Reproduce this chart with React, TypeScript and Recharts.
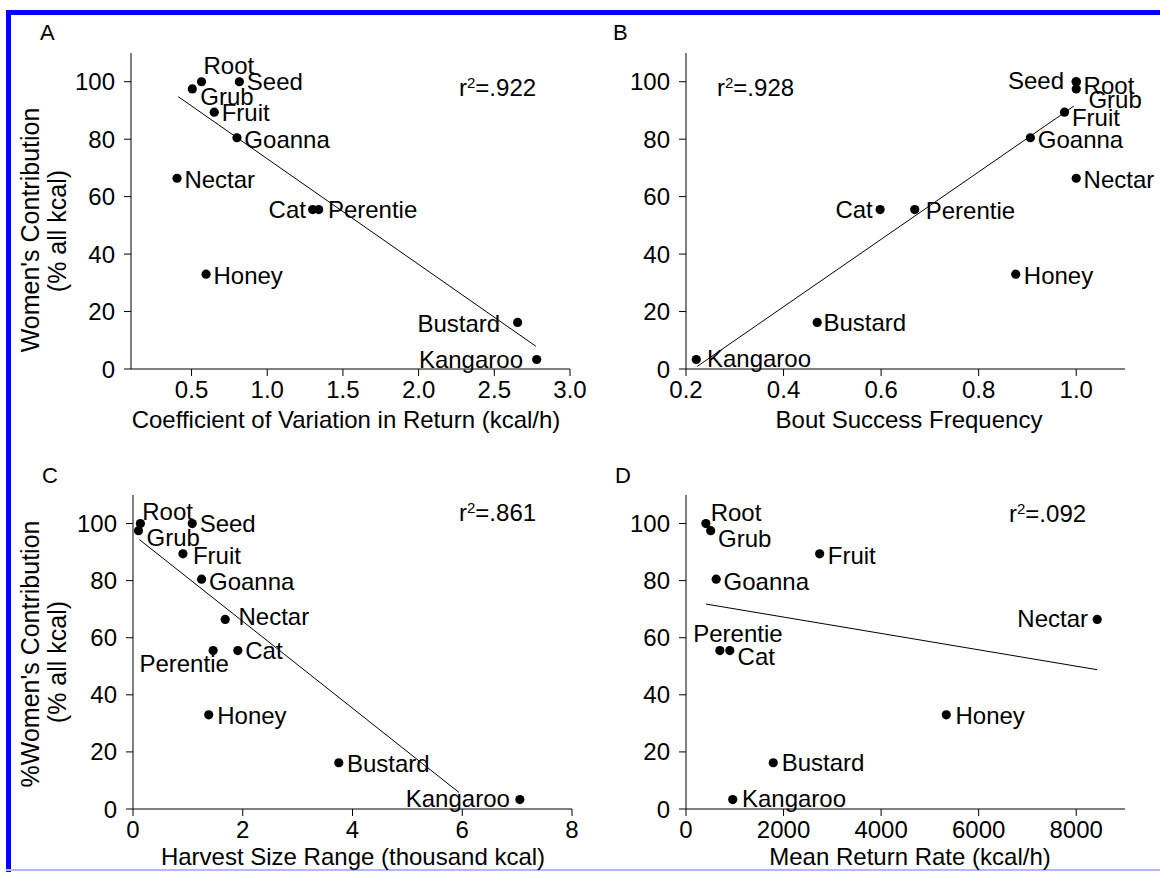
import React from "react";
import { ReferenceLine, Scatter, ScatterChart, XAxis, YAxis } from "recharts";

const FONT = "'Liberation Sans', Arial, Helvetica, sans-serif";

// food types, same order in every array
const foods = ["Root", "Seed", "Grub", "Fruit", "Goanna", "Nectar", "Cat", "Perentie", "Honey", "Bustard", "Kangaroo"];
// women's share of all kcal (%)
const womenShare = [100, 100, 97.5, 89.4, 80.5, 66.4, 55.5, 55.5, 33, 16.2, 3.3];
// x values per panel
const cvReturn = [0.566, 0.816, 0.505, 0.65, 0.8, 0.404, 1.3, 1.34, 0.596, 2.654, 2.78];
const boutSuccess = [1.0, 1.0, 1.0, 0.976, 0.906, 1.0, 0.598, 0.669, 0.876, 0.469, 0.221];
const harvestRange = [0.135, 1.08, 0.1, 0.91, 1.25, 1.68, 1.91, 1.46, 1.38, 3.75, 7.05];
const meanReturn = [408, null, 506, 2740, 619, 8430, 898, 694, 5336, 1789, 958];

// fitted lines (end points)
const fitA = [{ x: 0.412, y: 94.8 }, { x: 2.775, y: 7.9 }];
const fitB = [{ x: 0.223, y: 0.9 }, { x: 0.995, y: 91.5 }];
const fitC = [{ x: 0.115, y: 94.4 }, { x: 5.94, y: 5.8 }];
const fitD = [{ x: 408, y: 71.8 }, { x: 8430, y: 48.8 }];

const r2 = [".922", ".928", ".861", ".092"];

const yTicks = [0, 20, 40, 60, 80, 100];
const ticksA = [0.5, 1.0, 1.5, 2.0, 2.5, 3.0];
const ticksB = [0.2, 0.4, 0.6, 0.8, 1.0];
const ticksC = [0, 2, 4, 6, 8];
const ticksD = [0, 2000, 4000, 6000, 8000];

// label offsets from the dot: [dx, dy, anchor]
type LabelPos = [number, number, "start" | "middle" | "end"];
const posA: Record<string, LabelPos> = {
  Root: [2, -16.6, "start"], Seed: [7.4, 0, "start"], Grub: [8, 7.3, "start"],
  Fruit: [7.4, 0.7, "start"], Goanna: [7.4, 1.7, "start"], Nectar: [7.4, 1, "start"],
  Cat: [-6.7, 0, "end"], Perentie: [9.2, 0, "start"], Honey: [7.4, 1, "start"],
  Bustard: [-17.4, 0.7, "end"], Kangaroo: [-13.7, 0, "end"],
};
const posB: Record<string, LabelPos> = {
  Seed: [-12.2, -1, "end"], Root: [7.4, 3.3, "start"], Grub: [12.2, 10.7, "start"],
  Fruit: [7.4, 5.7, "start"], Goanna: [7.4, 1.7, "start"], Nectar: [7.4, 1, "start"],
  Cat: [-7.4, 0, "end"], Perentie: [11, 1, "start"], Honey: [8.1, 1, "start"],
  Bustard: [6.3, 0, "start"], Kangaroo: [10.7, -1, "start"],
};
const posC: Record<string, LabelPos> = {
  Root: [1.8, -12.3, "start"], Grub: [8.1, 6.7, "start"], Seed: [7.4, 0, "start"],
  Fruit: [10, 1.7, "start"], Goanna: [7.4, 1.7, "start"], Nectar: [13.3, -3.3, "start"],
  Perentie: [-29, 13.3, "middle"], Cat: [7.4, 0, "start"], Honey: [8.5, 1, "start"],
  Bustard: [8.1, 1, "start"], Kangaroo: [-10, -1, "end"],
};
const posD: Record<string, LabelPos> = {
  Root: [4.8, -11, "start"], Grub: [7.4, 7.7, "start"], Fruit: [8.1, 1.7, "start"],
  Goanna: [7.4, 1.7, "start"], Nectar: [-9.2, -1, "end"], Perentie: [18.1, -16.7, "middle"],
  Cat: [7.8, 6, "start"], Honey: [9.2, 1, "start"], Bustard: [8.5, -0.7, "start"],
  Kangaroo: [9.2, -1, "start"],
};

const build = (xs: (number | null)[]) =>
  foods
    .map((name, i) => ({ name, x: xs[i], y: womenShare[i] }))
    .filter((d) => d.x != null);

const dotShape = (pos: Record<string, LabelPos>) => (props: any) => {
  const { cx, cy, payload } = props;
  const p = pos[payload.name] ?? [7.4, 0, "start"];
  return (
    <g>
      <circle cx={cx} cy={cy} r={4.6} fill="#000" />
      <text x={cx + p[0]} y={cy + p[1] + 8.6} textAnchor={p[2]} fontSize={24} fontFamily={FONT} fill="#000">
        {payload.name}
      </text>
    </g>
  );
};

interface PanelProps {
  left: number;
  top: number;
  yWidth: number;
  marginTop: number;
  marginRight: number;
  marginBottom: number;
  domain: [number, number];
  ticks: number[];
  fmt?: (v: number) => string;
  data: { name: string; x: number | null; y: number }[];
  fit: { x: number; y: number }[];
  pos: Record<string, LabelPos>;
}

function Panel(p: PanelProps) {
  const tickStyle = { fill: "#000", fontSize: 24, fontFamily: FONT };
  return (
    <div style={{ position: "absolute", left: p.left, top: p.top }}>
      <ScatterChart
        width={580}
        height={436}
        margin={{ top: p.marginTop, right: p.marginRight, bottom: p.marginBottom, left: 0 }}
      >
        <XAxis
          type="number"
          dataKey="x"
          domain={p.domain}
          ticks={p.ticks}
          interval={0}
          tickFormatter={p.fmt}
          stroke="#000"
          tickSize={7}
          tickMargin={5}
          height={30}
          tick={tickStyle}
        />
        <YAxis
          type="number"
          dataKey="y"
          domain={[0, 110]}
          ticks={yTicks}
          interval={0}
          stroke="#000"
          tickSize={7}
          tickMargin={9}
          width={p.yWidth}
          tick={tickStyle}
        />
        <ReferenceLine segment={p.fit} stroke="#000" strokeWidth={1} ifOverflow="visible" />
        <Scatter data={p.data} shape={dotShape(p.pos)} isAnimationActive={false} />
      </ScatterChart>
    </div>
  );
}

function Txt({ x, base, size = 24, anchor = "start", children }: any) {
  const shift = anchor === "middle" ? "translateX(-50%)" : anchor === "end" ? "translateX(-100%)" : "none";
  return (
    <div
      style={{
        position: "absolute",
        left: x,
        top: base - 0.846 * size,
        fontSize: size,
        lineHeight: 1,
        whiteSpace: "nowrap",
        transform: shift,
        fontFamily: FONT,
        color: "#000",
      }}
    >
      {children}
    </div>
  );
}

function VTxt({ x, y, size = 25, children }: any) {
  return (
    <div
      style={{
        position: "absolute",
        left: x,
        top: y,
        fontSize: size,
        lineHeight: 1,
        whiteSpace: "nowrap",
        transform: "translate(-50%, -50%) rotate(-90deg)",
        fontFamily: FONT,
        color: "#000",
      }}
    >
      {children}
    </div>
  );
}

const R2 = ({ v }: { v: string }) => (
  <span>
    r<sup style={{ fontSize: 15, verticalAlign: "top", position: "relative", top: -1 }}>2</sup>=
    {v}
  </span>
);

const one = (v: number) => v.toFixed(1);

export default function App() {
  return (
    <div
      style={{
        position: "fixed",
        left: 0,
        top: 0,
        width: 1160,
        height: 872,
        overflow: "hidden",
        background: "#fff",
      }}
    >
      <style>{".recharts-surface{overflow:visible}"}</style>
      {/* frame */}
      <div style={{ position: "absolute", left: 6, top: 10, width: 1154, height: 5, background: "#0000ff" }} />
      <div style={{ position: "absolute", left: 6, top: 10, width: 5, height: 862, background: "#0000ff" }} />
      <div style={{ position: "absolute", left: 6, top: 869, width: 1154, height: 2, background: "#b4b8ff" }} />

      <Panel left={0} top={0} yWidth={131} marginTop={53} marginRight={10} marginBottom={37}
        domain={[0.1, 3.0]} ticks={ticksA} fmt={one} data={build(cvReturn)} fit={fitA} pos={posA} />
      <Panel left={580} top={0} yWidth={106} marginTop={53} marginRight={35} marginBottom={37}
        domain={[0.2, 1.1]} ticks={ticksB} fmt={one} data={build(boutSuccess)} fit={fitB} pos={posB} />
      <Panel left={0} top={430} yWidth={133} marginTop={65} marginRight={8} marginBottom={27}
        domain={[0, 8]} ticks={ticksC} data={build(harvestRange)} fit={fitC} pos={posC} />
      <Panel left={580} top={430} yWidth={106} marginTop={65} marginRight={35} marginBottom={27}
        domain={[0, 9000]} ticks={ticksD} data={build(meanReturn)} fit={fitD} pos={posD} />

      <Txt x={40} base={41} size={22}>A</Txt>
      <Txt x={613} base={41} size={22}>B</Txt>
      <Txt x={42} base={484} size={22}>C</Txt>
      <Txt x={615} base={484} size={22}>D</Txt>

      <Txt x={459} base={96}><R2 v={r2[0]} /></Txt>
      <Txt x={717} base={96}><R2 v={r2[1]} /></Txt>
      <Txt x={459} base={521}><R2 v={r2[2]} /></Txt>
      <Txt x={1009} base={522}><R2 v={r2[3]} /></Txt>

      <Txt x={346} base={428} anchor="middle">Coefficient of Variation in Return (kcal/h)</Txt>
      <Txt x={909} base={428} anchor="middle">Bout Success Frequency</Txt>
      <Txt x={353} base={865} anchor="middle">Harvest Size Range (thousand kcal)</Txt>
      <Txt x={910} base={865} anchor="middle">Mean Return Rate (kcal/h)</Txt>

      <VTxt x={30} y={230}>Women's Contribution</VTxt>
      <VTxt x={57} y={231}>(% all kcal)</VTxt>
      <VTxt x={30} y={654}>%Women's Contribution</VTxt>
      <VTxt x={57} y={662}>(% all kcal)</VTxt>
    </div>
  );
}
